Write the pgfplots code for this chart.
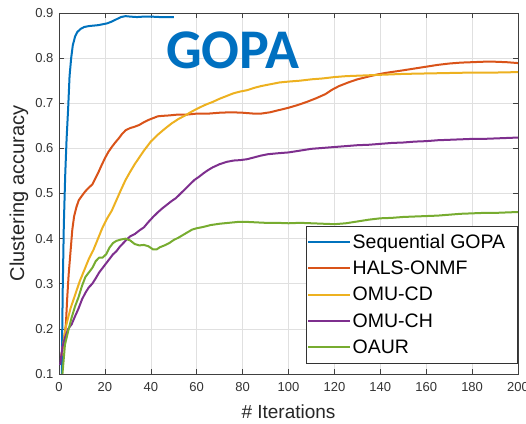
\documentclass[border=0pt]{standalone}
\usepackage{pgfplots}
\pgfplotsset{compat=1.18}
\usepackage{fontspec}
\setmainfont{Liberation Sans}
\newfontfamily\calibri{Carlito}
\definecolor{mblue}{rgb}{0,0.447,0.741}
\definecolor{mred}{rgb}{0.85,0.325,0.098}
\definecolor{myellow}{rgb}{0.929,0.694,0.125}
\definecolor{mpurple}{rgb}{0.494,0.184,0.556}
\definecolor{mgreen}{rgb}{0.466,0.674,0.188}
\definecolor{gopablue}{HTML}{0070C0}
\begin{document}
\begin{tikzpicture}
\begin{axis}[
  scale only axis, width=459pt, height=361pt,
  xmin=0, xmax=200, ymin=0.1, ymax=0.9,
  xtick={0,20,40,60,80,100,120,140,160,180,200},
  ytick={0.1,0.2,0.3,0.4,0.5,0.6,0.7,0.8,0.9},
  grid=major, major grid style={color=black!12, line width=0.5pt},
  tick align=inside, major tick length=5pt,
  axis line style={color=black!75, line width=0.6pt},
  tick style={color=black!75, line width=0.6pt},
  /pgf/number format/assume math mode=true,
  ticklabel style={font=\fontsize{13}{15}\selectfont, text=black!80},
  yticklabel style={/pgf/number format/fixed, /pgf/number format/precision=1, /pgf/number format/fixed zerofill, xshift=-2pt},
  xticklabel style={yshift=-5pt},
  xlabel={\# Iterations}, ylabel={Clustering accuracy},
  x label style={at={(axis description cs:0.5,0)}, anchor=base, yshift=-45pt, font=\fontsize{19}{22}\selectfont, text=black!85},
  y label style={at={(axis description cs:-0.087,0.5)}, anchor=center, font=\fontsize{20}{24}\selectfont, text=black!85},
  legend style={at={(rel axis cs:1,0.03)}, anchor=south east, draw=black!80, line width=0.6pt,
    font=\fontsize{19.5}{22}\selectfont, inner xsep=1pt, inner ysep=7pt, row sep=9.2pt,
    nodes={inner xsep=1.5pt, inner ysep=1pt}},
  legend cell align=left,
  legend image code/.code={\draw[#1] (0pt,0pt) -- (42pt,0pt);},
  every axis plot/.append style={line width=2pt, line join=round},
]
\addplot[mblue] coordinates {(1.2,0.1)(1.6,0.28)(2.1,0.43)(2.7,0.54)(3.3,0.62)(4,0.69)(4.6,0.76)(5.3,0.8)(6,0.828)(7,0.848)(8,0.858)(9.5,0.865)(11,0.869)(13,0.871)(15,0.872)(17,0.873)(19,0.875)(21,0.877)(23,0.881)(25,0.886)(27,0.891)(29,0.893)(31,0.892)(34,0.891)(37,0.892)(40,0.892)(44,0.891)(47,0.891)(50,0.891)};
\addlegendentry{Sequential GOPA\kern10pt}
\addplot[mred] coordinates {(1,0.14)(2,0.17)(3,0.21)(3.6,0.27)(4.2,0.32)(5,0.37)(5.8,0.42)(6.6,0.45)(7.6,0.47)(8.6,0.485)(10,0.495)(11.5,0.505)(13,0.513)(14.5,0.52)(15.5,0.53)(17,0.545)(18.5,0.562)(20,0.578)(21.5,0.592)(23,0.603)(24.5,0.613)(26,0.622)(27.5,0.632)(29,0.64)(31,0.645)(33,0.648)(35,0.652)(37,0.658)(39,0.663)(41,0.667)(43,0.671)(45,0.672)(48,0.673)(52,0.675)(56,0.675)(60,0.677)(65,0.677)(70,0.679)(75,0.68)(80,0.679)(85,0.677)(88,0.677)(92,0.68)(96,0.685)(100,0.69)(104,0.696)(108,0.703)(112,0.711)(116,0.72)(119,0.73)(122,0.738)(126,0.746)(130,0.753)(134,0.758)(138,0.763)(142,0.767)(146,0.77)(150,0.773)(155,0.777)(160,0.781)(165,0.785)(170,0.788)(175,0.79)(180,0.791)(185,0.792)(190,0.792)(195,0.791)(200,0.789)};
\addlegendentry{HALS-ONMF}
\addplot[myellow] coordinates {(1,0.14)(2,0.17)(3,0.205)(5,0.245)(7,0.275)(9,0.305)(11,0.33)(13,0.355)(15,0.375)(17,0.4)(19,0.425)(21,0.445)(23,0.462)(25,0.485)(27,0.508)(29,0.53)(31,0.548)(33,0.565)(35,0.58)(37,0.595)(40,0.615)(43,0.63)(46,0.643)(49,0.655)(52,0.665)(55,0.673)(58,0.682)(61,0.69)(64,0.697)(67,0.703)(70,0.71)(73,0.716)(76,0.722)(79,0.726)(82,0.729)(85,0.734)(88,0.738)(92,0.742)(96,0.746)(100,0.748)(105,0.75)(110,0.753)(115,0.755)(120,0.758)(125,0.76)(130,0.761)(140,0.763)(150,0.765)(160,0.766)(170,0.767)(180,0.768)(190,0.768)(200,0.769)};
\addlegendentry{OMU-CD}
\addplot[mpurple] coordinates {(0.5,0.12)(1.5,0.16)(2.6,0.18)(4,0.2)(5.5,0.21)(7,0.228)(8.5,0.245)(10,0.265)(11.5,0.28)(13,0.292)(14.5,0.3)(16,0.312)(17.5,0.325)(19,0.335)(20.5,0.345)(22,0.355)(23.5,0.365)(25,0.372)(26.5,0.382)(28,0.39)(29.5,0.398)(31,0.405)(33,0.41)(35,0.418)(37,0.425)(39,0.437)(41,0.448)(43,0.458)(45,0.467)(47,0.475)(49,0.483)(51,0.49)(53,0.5)(55,0.51)(57,0.52)(59,0.53)(61,0.537)(63,0.545)(65,0.552)(67,0.558)(70,0.565)(73,0.57)(76,0.573)(79,0.574)(82,0.576)(85,0.58)(88,0.584)(91,0.587)(95,0.589)(100,0.591)(105,0.595)(110,0.599)(115,0.601)(120,0.603)(125,0.605)(130,0.607)(135,0.608)(140,0.61)(145,0.612)(150,0.613)(155,0.615)(160,0.616)(165,0.618)(170,0.619)(175,0.62)(180,0.621)(185,0.621)(190,0.622)(195,0.623)(200,0.624)};
\addlegendentry{OMU-CH}
\addplot[mgreen] coordinates {(1.5,0.1)(2.6,0.165)(4,0.195)(5.5,0.225)(7,0.25)(8.5,0.27)(10,0.295)(11.5,0.315)(13,0.325)(14.5,0.335)(16,0.35)(17.5,0.358)(19,0.358)(20.5,0.365)(22,0.38)(23.5,0.39)(25,0.395)(27,0.398)(29,0.4)(31,0.396)(33,0.388)(35,0.385)(37,0.386)(39,0.383)(41,0.376)(42.5,0.376)(44,0.381)(46,0.385)(48,0.39)(50,0.397)(52,0.402)(54,0.408)(56,0.414)(58,0.42)(60,0.423)(63,0.426)(66,0.43)(70,0.433)(74,0.435)(78,0.437)(82,0.437)(86,0.436)(90,0.435)(95,0.435)(100,0.434)(105,0.435)(110,0.434)(115,0.433)(120,0.432)(125,0.434)(130,0.438)(135,0.442)(140,0.445)(145,0.446)(150,0.448)(155,0.449)(160,0.45)(165,0.451)(170,0.453)(175,0.455)(180,0.456)(185,0.457)(190,0.457)(195,0.458)(200,0.459)};
\addlegendentry{OAUR}
\node[anchor=base west, inner sep=0pt, text=gopablue, font=\calibri\bfseries\fontsize{56}{60}\selectfont] at (axis cs:46.6,0.778) {GOPA};
\coordinate (sw) at (rel axis cs:0,0);
\coordinate (ne) at (rel axis cs:1,1);
\end{axis}
\pgfresetboundingbox
\path[use as bounding box] ([shift={(-59pt,-50pt)}]sw) rectangle ([shift={(8pt,13pt)}]ne);
\end{tikzpicture}
\end{document}
